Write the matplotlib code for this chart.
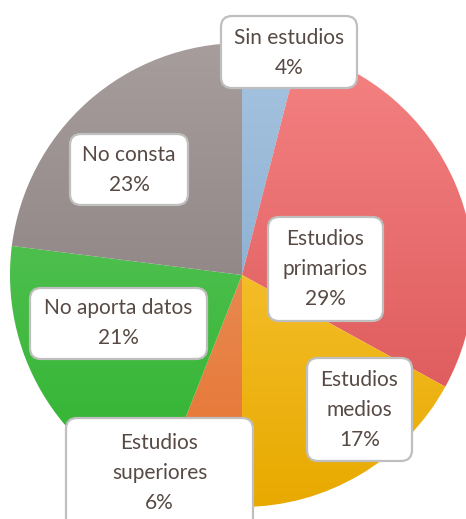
import numpy as np
import matplotlib
matplotlib.use('Agg')
import matplotlib.pyplot as plt
from matplotlib.colors import LinearSegmentedColormap
from matplotlib.patches import FancyBboxPatch

plt.rcParams['font.family'] = ['Lato', 'DejaVu Sans']

# datos
categorias = ['Sin estudios', 'Estudios primarios', 'Estudios medios',
              'Estudios superiores', 'No aporta datos', 'No consta']
etiquetas = ['Sin estudios', 'Estudios\nprimarios', 'Estudios\nmedios',
             'Estudios\nsuperiores', 'No aporta datos', 'No consta']
porcentajes = [4, 29, 17, 6, 21, 23]

# degradado vertical (arriba, abajo) por sector
colores = [('#a6c4e0', '#7aa1c6'),
           ('#f58383', '#d85052'),
           ('#ffcf50', '#e8aa00'),
           ('#eaa070', '#e6722f'),
           ('#66c966', '#2db22d'),
           ('#a69d9c', '#7e7473')]

W, H = 466, 519
fig = plt.figure(figsize=(W / 100, H / 100), dpi=100)
ax = fig.add_axes([0, 0, 1, 1])

cx, cy, r = 242, H - 275, 232   # centro y radio en pixeles
wedges, _ = ax.pie(porcentajes, startangle=90, counterclock=False,
                   center=(cx, cy), radius=r,
                   wedgeprops=dict(linewidth=0))

grad = np.linspace(0, 1, 256).reshape(-1, 1)
for w, (c_top, c_bot) in zip(wedges, colores):
    w.set_facecolor('none')
    cmap = LinearSegmentedColormap.from_list('g', [c_top, c_bot])
    im = ax.imshow(grad, cmap=cmap, aspect='auto', origin='upper',
                   extent=(cx - r, cx + r, cy - r, cy + r), zorder=1)
    im.set_clip_path(w)

# cajas de etiquetas: (x0, y0, x1, y1) en pixeles desde arriba, centro del texto
cajas = [(221, 16, 357, 88, 53),
         (268, 217, 383, 321, 269),
         (307, 358, 412, 461, 410),
         (66, 418, 253, 530, 473),
         (30, 288, 207, 359, 323),
         (70, 134, 188, 205, 170)]

for texto, p, (x0, y0, x1, y1, ty) in zip(etiquetas, porcentajes, cajas):
    box = FancyBboxPatch((x0, H - y1), x1 - x0, y1 - y0,
                         boxstyle='round,pad=0,rounding_size=11',
                         facecolor='white', edgecolor='#bfbfbf',
                         linewidth=1.6, zorder=3)
    ax.add_patch(box)
    ax.text((x0 + x1) / 2, H - ty, f'{texto}\n{p}%', ha='center', va='center',
            fontsize=15, color='#574a45', linespacing=1.65, zorder=4)

ax.set_xlim(0, W)
ax.set_ylim(0, H)
ax.set_aspect('equal', adjustable='box')
ax.axis('off')

fig.savefig('out.png', dpi=100, facecolor='white')
